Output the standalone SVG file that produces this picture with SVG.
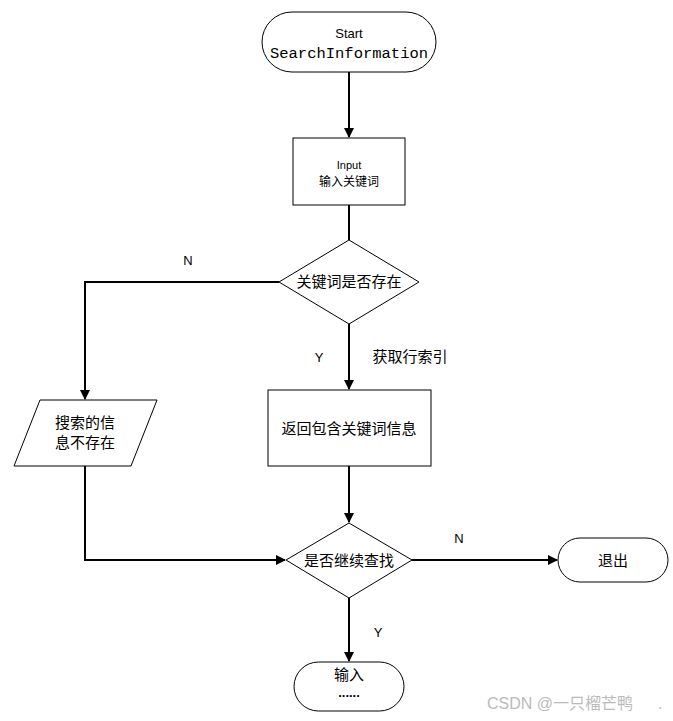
<svg xmlns="http://www.w3.org/2000/svg" width="673" height="721" viewBox="0 0 673 721">
<style>
.s{fill:#fff;stroke:#000;stroke-width:1}
.c{fill:none;stroke:#000;stroke-width:2}
.t{font-family:"Noto Sans CJK SC","Liberation Sans",sans-serif;font-size:15px;fill:#000;text-anchor:middle}
.l{font-family:"Liberation Sans",Arial,sans-serif;font-size:13px;fill:#000;text-anchor:middle}
.m{font-family:"Liberation Mono","Courier New",monospace;font-size:15.5px;fill:#000;text-anchor:middle}
</style>
<defs>
<marker id="a" markerWidth="10" markerHeight="10" refX="9" refY="5" orient="auto" markerUnits="userSpaceOnUse">
<path d="M0,0 L10,5 L0,10 z" fill="#000"/>
</marker>
</defs>
<rect width="673" height="721" fill="#fff"/>
<g id="connectors">
<line class="c" x1="349" y1="72" x2="349" y2="137" marker-end="url(#a)"/>
<line class="c" x1="349" y1="205" x2="349" y2="240"/>
<polyline class="c" points="279,282 85,282 85,399" marker-end="url(#a)"/>
<line class="c" x1="349" y1="324" x2="349" y2="389" marker-end="url(#a)"/>
<line class="c" x1="349" y1="466" x2="349" y2="522" marker-end="url(#a)"/>
<polyline class="c" points="85,466 85,560 285,560" marker-end="url(#a)"/>
<line class="c" x1="412" y1="560" x2="557" y2="560" marker-end="url(#a)"/>
<line class="c" x1="349" y1="598" x2="349" y2="661" marker-end="url(#a)"/>
<text class="l" x="188" y="265">N</text>
<text class="l" x="319" y="362">Y</text>
<text class="t" x="410" y="362">获取行索引</text>
<text class="l" x="459" y="543">N</text>
<text class="l" x="378" y="637">Y</text>
</g>
<g id="start">
<rect class="s" x="262" y="12" width="174" height="60" rx="30"/>
<text class="l" x="349" y="38">Start</text>
<text class="m" x="349" y="58">SearchInformation</text>
</g>
<g id="input">
<rect class="s" x="293" y="138" width="112" height="67"/>
<text class="l" x="349" y="169" style="font-size:11px">Input</text>
<text class="t" x="349" y="186" style="font-size:12px">输入关键词</text>
</g>
<g id="decision1">
<polygon class="s" points="349,240 419,282 349,324 279,282"/>
<text class="t" x="349" y="287">关键词是否存在</text>
</g>
<g id="notfound">
<polygon class="s" points="40,400 157,400 131,466 14,466"/>
<text class="t" x="85" y="428">搜索的信</text>
<text class="t" x="85" y="448">息不存在</text>
</g>
<g id="result">
<rect class="s" x="268" y="390" width="163" height="76"/>
<text class="t" x="349" y="434">返回包含关键词信息</text>
</g>
<g id="decision2">
<polygon class="s" points="349,523 412,560 349,598 286,560"/>
<text class="t" x="349" y="566">是否继续查找</text>
</g>
<g id="exit">
<rect class="s" x="558" y="538" width="110" height="44" rx="22"/>
<text class="t" x="613" y="566">退出</text>
</g>
<g id="next">
<rect class="s" x="294" y="662" width="110" height="49" rx="24.5"/>
<text class="t" x="349" y="680">输入</text>
<text class="l" x="349" y="697" style="font-weight:bold">......</text>
</g>
<text x="487" y="709" style="font-family:'Liberation Sans','Noto Sans CJK SC',sans-serif;font-size:16px;fill:#bbb">CSDN @一只榴芒鸭</text>
<text x="658" y="709" style="font-family:'Liberation Sans',sans-serif;font-size:16px;fill:#bbb">.</text>
</svg>
